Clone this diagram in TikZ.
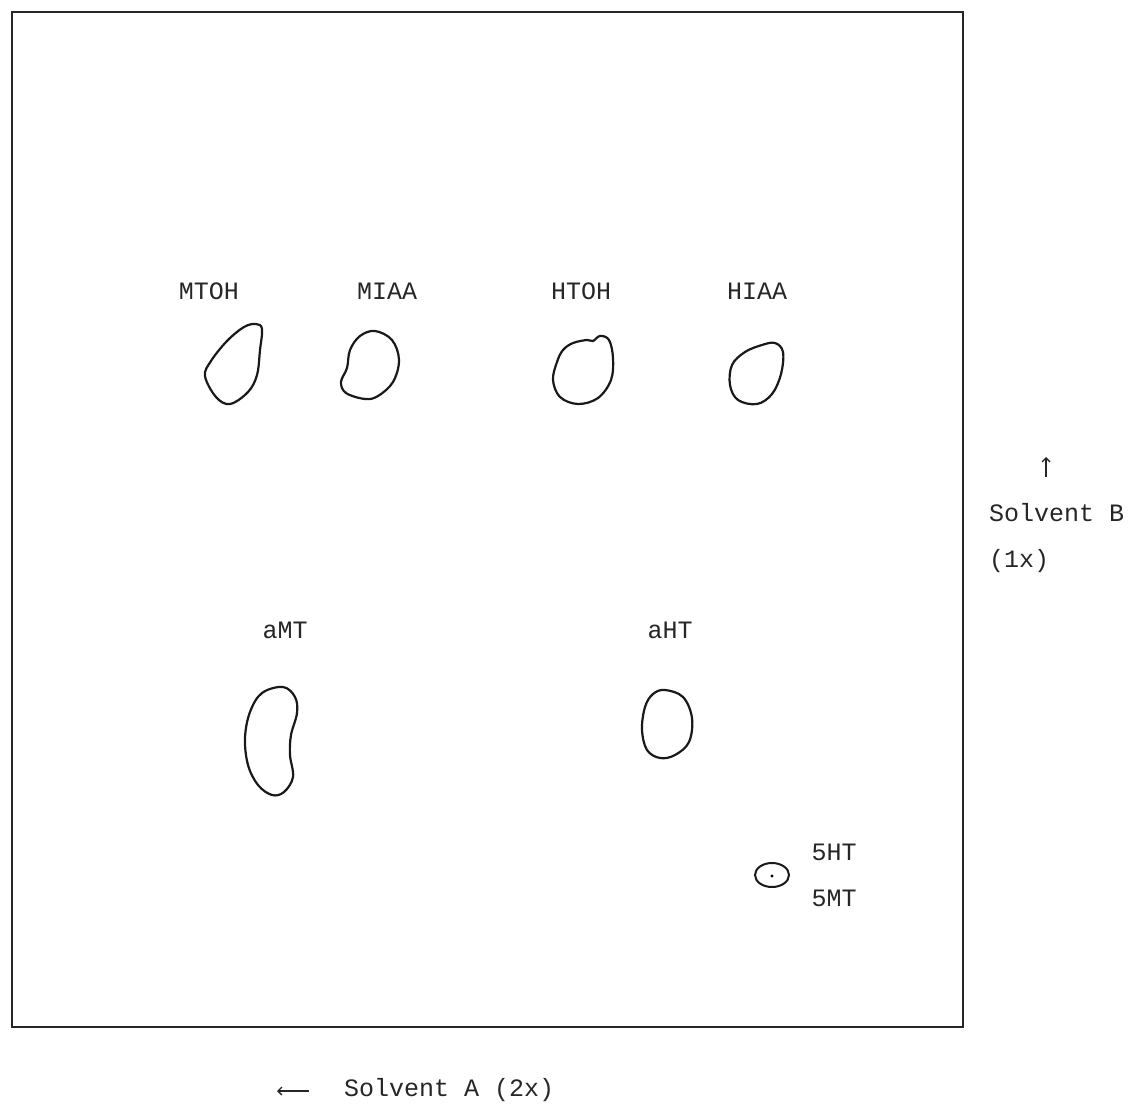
\documentclass[tikz,border=0pt]{standalone}
\usepackage{fontspec}
\newfontfamily\tw{Liberation Mono}
\usetikzlibrary{arrows.meta}
\begin{document}
\begin{tikzpicture}[x=1pt,y=-1pt,
  lbl/.style={font=\tw\fontsize{25}{27}\selectfont, text=black!85, inner sep=0pt},
  spot/.style={line width=2.2pt, black!90},
  frame/.style={line width=1.8pt, black!85}]
\useasboundingbox (0,0) rectangle (1137,1105);
\draw[frame] (12,12) rectangle (963,1027);
% labels
\node[lbl] (mtoh) at (209,291) {MTOH};
\node[lbl] (miaa) at (387,291) {MIAA};
\node[lbl] (htoh) at (581,291) {HTOH};
\node[lbl] (hiaa) at (757,291) {HIAA};
\node[lbl] (amt) at (285,630) {aMT};
\node[lbl] (aht) at (670,630) {aHT};
\node[lbl] (s5ht) at (834,852) {5HT};
\node[lbl] (s5mt) at (834,898) {5MT};
% spots
\draw[spot] plot[smooth cycle, tension=0.6] coordinates {(262,329) (260,350) (257,375) (248,392) (230,404) (216,397) (205,376) (211,361) (227,341) (244,327) (256,324)};
\draw[spot] plot[smooth cycle, tension=0.6] coordinates {(375,331) (392,340) (399,360) (393,382) (378,396) (365,399) (346,393) (341,382) (347,368) (350,350) (360,336)};
\draw[spot] plot[smooth cycle, tension=0.6] coordinates {(573,343) (587,340) (593,341) (600,336) (609,340) (613,358) (611,380) (598,398) (578,404) (560,397) (553,380) (557,362) (563,350)};
\draw[spot] plot[smooth cycle, tension=0.6] coordinates {(775,343) (783,352) (781,374) (772,394) (757,404) (738,400) (730,385) (732,365) (745,352) (762,345)};
\draw[spot] plot[smooth cycle, tension=0.6] coordinates {(283,687) (295,697) (297,713) (291,735) (290,755) (293,777) (284,792) (272,795) (258,785) (248,765) (245,738) (250,712) (262,693)};
\draw[spot] plot[smooth cycle, tension=0.6] coordinates {(665,690) (683,697) (692,718) (689,742) (675,755) (660,758) (647,750) (642,730) (645,707) (653,694)};
\draw[spot, line width=2pt] (772,875) ellipse [x radius=17, y radius=12];
\fill[black] (772,876) circle (1.6);
% solvent B
\coordinate (bb) at (1046,477);
\coordinate (bt) at (1046,457);
\draw[line width=1.3pt, black!85, -{Straight Barb[length=4pt,width=8pt]}] (bb) -- (bt);
\node[lbl, anchor=west] (solb) at (989,513) {Solvent B};
\node[lbl, anchor=west] (solbx) at (989,561) {(1x)};
% solvent A
\coordinate (ar) at (309,1091);
\coordinate (al) at (277,1091);
\draw[line width=1.3pt, black!85, -{Straight Barb[length=4pt,width=8pt]}] (ar) -- (al);
\node[lbl, anchor=west] (sola) at (344,1090) {Solvent A (2x)};
\end{tikzpicture}
\end{document}
